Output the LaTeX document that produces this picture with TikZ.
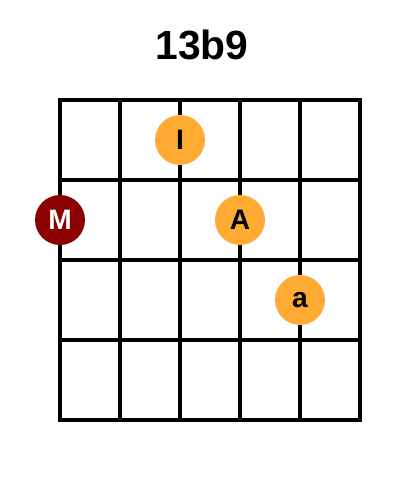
\documentclass[tikz,border=0pt]{standalone}
\usepackage{fontspec}
\setmainfont{Liberation Sans}
\usetikzlibrary{positioning}

\definecolor{dotorange}{HTML}{FFAA33}
\definecolor{dotred}{HTML}{8B0000}

\tikzset{
  fret/.style = {line width=2.2pt, line cap=rect},
  fingerdot/.style = {circle, minimum size=50*0.025cm, inner sep=0pt,
                      fill=dotorange, font=\fontsize{20}{20}\selectfont\bfseries},
  rootdot/.style = {fingerdot, fill=dotred, text=white}
}

\begin{document}
\begin{tikzpicture}
  [
    x = 0.025cm, y = -0.025cm
  ]
  \useasboundingbox (0,0) rectangle (400,500);
  % title
  \node (Title) at (202,45) {\fontsize{29}{29}\selectfont\bfseries 13b9};
  % grid: strings and frets
  \foreach \sx in {60,120,...,360}
    \draw[fret] (\sx,100) -- (\sx,420);
  \foreach \fy in {100,180,...,420}
    \draw[fret] (60,\fy) -- (360,\fy);
  % dots
  \node[rootdot]   (M) at (60,220)  {M};
  \node[fingerdot] (I) at (180,140) {I};
  \node[fingerdot] (A) at (240,220) {A};
  \node[fingerdot] (a) at (300,300) {a};
\end{tikzpicture}
\end{document}
